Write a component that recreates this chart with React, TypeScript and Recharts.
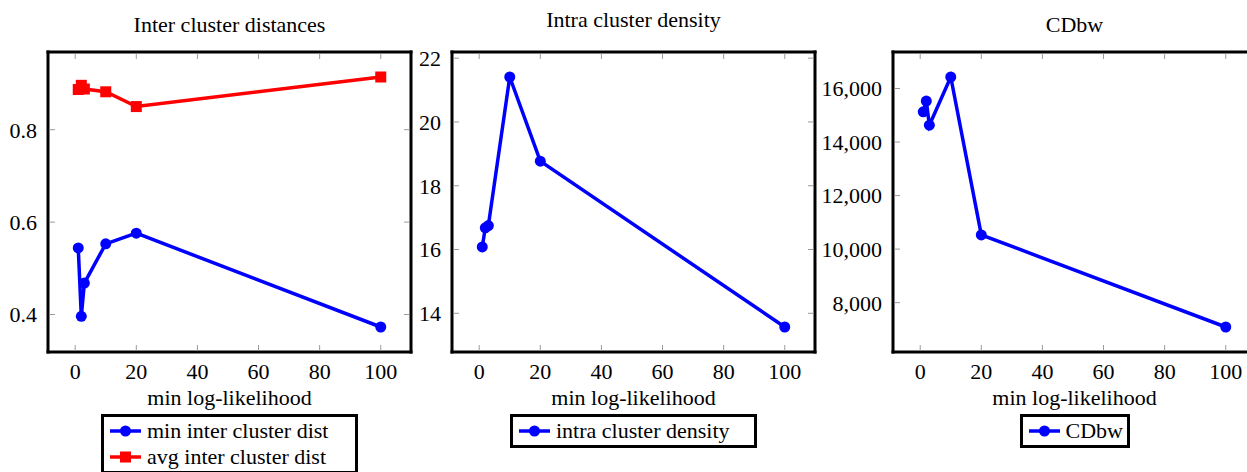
import { LineChart, Line, XAxis, YAxis, Legend } from "recharts";

// min log-likelihood threshold used for each run
const likelihood = [1, 2, 3, 10, 20, 100];
const minInterDist = [0.544, 0.396, 0.468, 0.553, 0.576, 0.373];
const avgInterDist = [0.887, 0.896, 0.888, 0.882, 0.85, 0.914];
const intraDensity = [16.08, 16.68, 16.75, 21.41, 18.77, 13.57];
const cdbw = [15130, 15530, 14630, 16430, 10530, 7090];

const xTicks = [0, 20, 40, 60, 80, 100];
const interTicks = [0.4, 0.6, 0.8];
const densityTicks = [14, 16, 18, 20, 22];
const cdbwTicks = [8000, 10000, 12000, 14000, 16000];

const FONT = "Liberation Serif, DejaVu Serif, serif";
const BLUE = "#0000ff";
const RED = "#ff0000";
const TICK_GRAY = "#9a9a9a";
const FRAME = { stroke: "#000", strokeWidth: 3, strokeLinecap: "square" as const };
const LINE_W = 3.5;
const DOT = { r: 5.5, fill: BLUE, stroke: BLUE, strokeWidth: 0 };

// 10% padding on each side of the data range
const enlarge = (vals: number[]): [number, number] => {
  const lo = Math.min(...vals);
  const hi = Math.max(...vals);
  const pad = (hi - lo) * 0.1;
  return [lo - pad, hi + pad];
};

const xDomain = enlarge(likelihood);

const interData = likelihood.map((x, i) => ({ x, minDist: minInterDist[i], avgDist: avgInterDist[i] }));
const densityData = likelihood.map((x, i) => ({ x, density: intraDensity[i] }));
const cdbwData = likelihood.map((x, i) => ({ x, cdbw: cdbw[i] }));

const CHART_H = 472;
const PLOT_W = 363;

const textStyle = { fontFamily: FONT, fontSize: 22 };

const BottomTick = ({ x, y, payload }: any) => (
  <g>
    <line x1={x} x2={x} y1={y - 1.5} y2={y - 7} stroke={TICK_GRAY} strokeWidth={1} />
    <text x={x} y={y + 27} textAnchor="middle" style={textStyle} fill="#000">
      {payload.value}
    </text>
  </g>
);

const TopTick = ({ x, y }: any) => (
  <line x1={x} x2={x} y1={y + 1.5} y2={y + 7} stroke={TICK_GRAY} strokeWidth={1} />
);

const makeLeftTick = (fmt: (v: number) => string) => ({ x, y, payload }: any) => (
  <g>
    <line x1={x + 1.5} x2={x + 7} y1={y} y2={y} stroke={TICK_GRAY} strokeWidth={1} />
    <text x={x - 11} y={y} dy="0.36em" textAnchor="end" style={textStyle} fill="#000">
      {fmt(payload.value)}
    </text>
  </g>
);

const RightTick = ({ x, y }: any) => (
  <line x1={x - 1.5} x2={x - 7} y1={y} y2={y} stroke={TICK_GRAY} strokeWidth={1} />
);

const SquareDot = (props: any) => {
  const { cx, cy, index } = props;
  return <rect key={`sq-${index}`} x={cx - 5.5} y={cy - 5.5} width={11} height={11} fill={RED} />;
};

type Entry = { name: string; color: string; square?: boolean };

const legendBox = (entries: Entry[], boxWidth: number) => () => (
  <div style={{ display: "flex", justifyContent: "center" }}>
    <div
      style={{
        width: boxWidth,
        boxSizing: "border-box",
        border: "3px solid #000",
        background: "#fff",
        padding: "1px 6px",
        fontFamily: FONT,
        fontSize: 22,
        lineHeight: "26px",
        color: "#000",
      }}
    >
      {entries.map((e) => (
        <div key={e.name} style={{ display: "flex", alignItems: "center", whiteSpace: "nowrap" }}>
          <svg width={31} height={14} style={{ marginRight: 6, flex: "none" }}>
            <line x1={0} x2={31} y1={7} y2={7} stroke={e.color} strokeWidth={LINE_W} />
            {e.square ? (
              <rect x={10} y={1.5} width={11} height={11} fill={e.color} />
            ) : (
              <circle cx={15.5} cy={7} r={5.5} fill={e.color} />
            )}
          </svg>
          {e.name}
        </div>
      ))}
    </div>
  </div>
);

type PanelProps = {
  left: number;
  width: number;
  plotLeft: number;
  title: string;
  titleY: number;
  data: any[];
  yDomain: [number, number];
  yTicks: number[];
  yFormat: (v: number) => string;
  entries: Entry[];
  legendWidth: number;
  children: React.ReactNode;
};

const Panel = ({ left, width, plotLeft, title, titleY, data, yDomain, yTicks, yFormat, entries, legendWidth, children }: PanelProps) => {
  const rightMargin = width - plotLeft - PLOT_W - 1;
  const cx = plotLeft + PLOT_W / 2;
  return (
    <div style={{ position: "absolute", left, top: 0 }}>
      <LineChart width={width} height={CHART_H} data={data} margin={{ top: 51, right: rightMargin, bottom: 90, left: 0 }}>
        <XAxis
          type="number"
          dataKey="x"
          domain={xDomain}
          ticks={xTicks}
          allowDataOverflow
          interval={0}
          height={30}
          tickSize={0}
          tickMargin={0}
          tickLine={false}
          axisLine={FRAME}
          tick={BottomTick}
        />
        <XAxis
          xAxisId="top"
          orientation="top"
          type="number"
          dataKey="x"
          domain={xDomain}
          ticks={xTicks}
          allowDataOverflow
          interval={0}
          height={1}
          tickSize={0}
          tickMargin={0}
          tickLine={false}
          axisLine={FRAME}
          tick={TopTick}
        />
        <YAxis
          type="number"
          domain={yDomain}
          ticks={yTicks}
          allowDataOverflow
          interval={0}
          width={plotLeft}
          tickSize={0}
          tickMargin={0}
          tickLine={false}
          axisLine={FRAME}
          tick={makeLeftTick(yFormat)}
        />
        <YAxis
          yAxisId="right"
          orientation="right"
          type="number"
          domain={yDomain}
          ticks={yTicks}
          allowDataOverflow
          interval={0}
          width={1}
          tickSize={0}
          tickMargin={0}
          tickLine={false}
          axisLine={FRAME}
          tick={RightTick}
        />
        {children}
        <Legend
          layout="horizontal"
          verticalAlign="middle"
          align="center"
          wrapperStyle={{ left: plotLeft, top: 414, width: PLOT_W }}
          content={legendBox(entries, legendWidth)}
        />
        <text x={cx} y={titleY} textAnchor="middle" style={textStyle} fill="#000">
          {title}
        </text>
        <text x={cx} y={405} textAnchor="middle" style={textStyle} fill="#000">
          min log-likelihood
        </text>
      </LineChart>
    </div>
  );
};

const fmtPlain = (v: number) => String(v);
const fmtThousands = (v: number) => v.toLocaleString("en-US");

export default function App() {
  return (
    <div
      style={{
        position: "absolute",
        left: 0,
        top: 0,
        width: 1247,
        height: 472,
        overflow: "hidden",
        background: "#fff",
      }}
    >
      <Panel
        left={0}
        width={440}
        plotLeft={48}
        title="Inter cluster distances"
        titleY={32}
        data={interData}
        yDomain={enlarge([...minInterDist, ...avgInterDist])}
        yTicks={interTicks}
        yFormat={fmtPlain}
        entries={[
          { name: "min inter cluster dist", color: BLUE },
          { name: "avg inter cluster dist", color: RED, square: true },
        ]}
        legendWidth={257}
      >
        <Line
          type="linear"
          dataKey="minDist"
          stroke={BLUE}
          strokeWidth={LINE_W}
          dot={DOT}
          activeDot={false}
          isAnimationActive={false}
        />
        <Line
          type="linear"
          dataKey="avgDist"
          stroke={RED}
          strokeWidth={LINE_W}
          dot={SquareDot}
          activeDot={false}
          isAnimationActive={false}
        />
      </Panel>
      <Panel
        left={412}
        width={438}
        plotLeft={40}
        title="Intra cluster density"
        titleY={27}
        data={densityData}
        yDomain={enlarge(intraDensity)}
        yTicks={densityTicks}
        yFormat={fmtPlain}
        entries={[{ name: "intra cluster density", color: BLUE }]}
        legendWidth={247}
      >
        <Line
          type="linear"
          dataKey="density"
          stroke={BLUE}
          strokeWidth={LINE_W}
          dot={DOT}
          activeDot={false}
          isAnimationActive={false}
        />
      </Panel>
      <Panel
        left={820}
        width={440}
        plotLeft={73}
        title="CDbw"
        titleY={32}
        data={cdbwData}
        yDomain={enlarge(cdbw)}
        yTicks={cdbwTicks}
        yFormat={fmtThousands}
        entries={[{ name: "CDbw", color: BLUE }]}
        legendWidth={110}
      >
        <Line
          type="linear"
          dataKey="cdbw"
          stroke={BLUE}
          strokeWidth={LINE_W}
          dot={DOT}
          activeDot={false}
          isAnimationActive={false}
        />
      </Panel>
    </div>
  );
}
